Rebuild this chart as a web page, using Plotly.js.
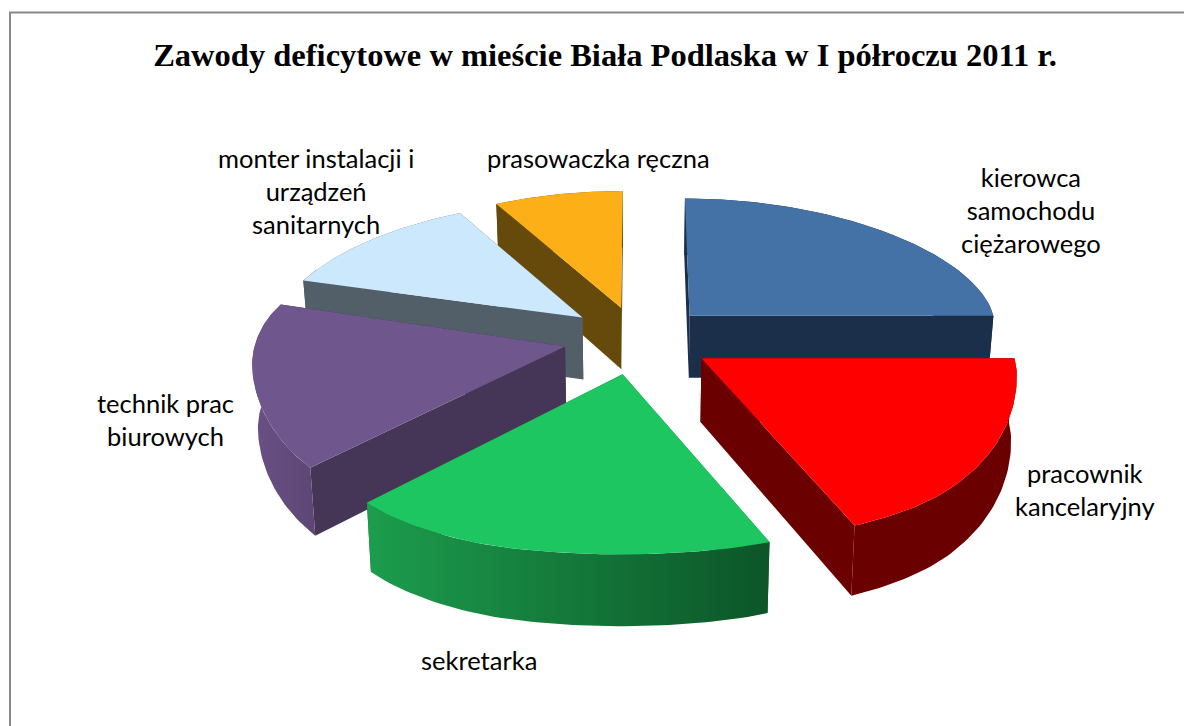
<!DOCTYPE html>
<html><head><meta charset="utf-8">
<script src="https://cdn.plot.ly/plotly-3.0.1.min.js"></script>
<style>html,body{margin:0;padding:0;background:#fff;overflow:hidden}#c{width:1184px;height:726px}</style>
</head><body><div id="c"></div>
<script>
// ---- data ----
const titleText = "Zawody deficytowe w mieście Biała Podlaska w I półroczu 2011 r.";
const categories = ["kierowca samochodu ciężarowego","pracownik kancelaryjny","sekretarka","technik prac biurowych","monter instalacji i urządzeń sanitarnych","prasowaczka ręczna"];
const values = [25,18,20.5,16.5,12.5,7.5];
const labelLines = ["kierowca<br>samochodu<br>ciężarowego","pracownik<br>kancelaryjny","sekretarka","technik prac<br>biurowych","monter instalacji i<br>urządzeń<br>sanitarnych","prasowaczka ręczna"];
const topColors = ["#4471a6","#ff0000","#1ec661","#6f568c","#cce8fd","#fdaf17"];
const faceColors = ["#1b2f4a","#6b0000","#14783a","#453556","#525f68","#664a0b"];
const wallStart = ["#1b2f4a","#6b0000","#1c9d4d","#6a5085","#525f68","#664a0b"];
const wallEnd = ["#1b2f4a","#6b0000","#0c5528","#5d4674","#525f68","#664a0b"];
const drawOrder = [5,4,0,3,1,2];
const labelX = [1031,1085,479,165,316,598];
const labelY = [210,489,660,419,191,158];

// ---- 3D pie view: depth curve maps disc depth to vertical screen offset ----
const view = {cx:638, cy:337, R:309, perspX:0.1, explode:0.24, depth:63, depthPersp:0.1, shrink:0.985};
const depthCurve = [[-1.6,-190],[-1.2,-142],[-0.47,-57],[-0.16,-20],[0.12,20],[0.25,40],[0.68,125],[0.88,163],[1.14,205],[1.24,218],[1.5,250]];
function screenDepth(v){
  const c=depthCurve; let i=0;
  while(i<c.length-2 && v>c[i+1][0]) i++;
  const p1=c[i],p2=c[i+1],p0=c[Math.max(i-1,0)],p3=c[Math.min(i+2,c.length-1)];
  const h=p2[0]-p1[0], t=(v-p1[0])/h;
  const m1=(p2[1]-p0[1])/(p2[0]-p0[0])*h, m2=(p3[1]-p1[1])/(p3[0]-p1[0])*h;
  const t2=t*t,t3=t2*t;
  return (2*t3-3*t2+1)*p1[1]+(t3-2*t2+t)*m1+(-2*t3+3*t2)*p2[1]+(t3-t2)*m2;
}
function project(u,v,low){
  const sx = 1/(1 - view.perspX*v);
  const k = low ? view.shrink : 1;
  return [view.cx + view.R*u*sx*k, view.cy + screenDepth(v) + (low ? view.depth/(1 - view.depthPersp*v) : 0)];
}
const total = values.reduce((a,b)=>a+b,0);
const traces = [];
function poly(pts,color,grad){
  const t = {type:"scatter",mode:"lines",x:pts.map(p=>p[0]),y:pts.map(p=>p[1]),fill:"toself",
    line:{width:0},hoverinfo:"skip",showlegend:false,fillcolor:color};
  if(grad) t.fillgradient={type:"horizontal",colorscale:[[0,grad[0]],[1,grad[1]]]};
  traces.push(t);
}
let acc=0; const slices=values.map(v=>{const a0=acc/total*2*Math.PI; acc+=v; return [a0,acc/total*2*Math.PI];});
drawOrder.forEach(i=>{
  const [a0,a1]=slices[i], mid=(a0+a1)/2;
  const ou=view.explode*Math.sin(mid), ov=-view.explode*Math.cos(mid);
  const arc=[]; const n=60;
  for(let k=0;k<=n;k++){const a=a0+(a1-a0)*k/n; arc.push([ou+Math.sin(a),ov-Math.cos(a)]);}
  const topArc=arc.map(p=>project(p[0],p[1],false));
  const lowArc=arc.map(p=>project(p[0],p[1],true));
  const apexT=project(ou,ov,false), apexL=project(ou,ov,true);
  poly([apexT,topArc[0],lowArc[0],apexL,apexT],faceColors[i]);
  poly([apexT,topArc[n],lowArc[n],apexL,apexT],faceColors[i]);
  poly(topArc.concat(lowArc.slice().reverse()),wallStart[i],[wallStart[i],wallEnd[i]]);
  poly([apexT].concat(topArc,[apexT]),topColors[i]);
});

const layout = {
  width:1184,height:726,margin:{l:0,r:0,t:0,b:0},paper_bgcolor:"#fff",plot_bgcolor:"#fff",showlegend:false,
  title:{text:titleText,font:{family:"Liberation Serif",size:32.5,color:"#000",weight:700},x:0.511,xanchor:"center",y:0.925,yanchor:"middle"},
  xaxis:{range:[0,1184],visible:false,fixedrange:true},
  yaxis:{range:[726,0],visible:false,fixedrange:true},
  shapes:[{type:"rect",xref:"x",yref:"y",x0:10,y0:12.5,x1:1300,y1:900,line:{color:"#888888",width:2},layer:"below"}],
  annotations:labelLines.map((t,i)=>({text:t,xref:"x",yref:"y",x:labelX[i],y:labelY[i],showarrow:false,align:"center",xanchor:"center",yanchor:"middle",
    font:{family:"Lato",size:25.5,color:"#000"}}))
};
Plotly.newPlot("c",traces,layout,{displayModeBar:false,staticPlot:true});
</script></body></html>
